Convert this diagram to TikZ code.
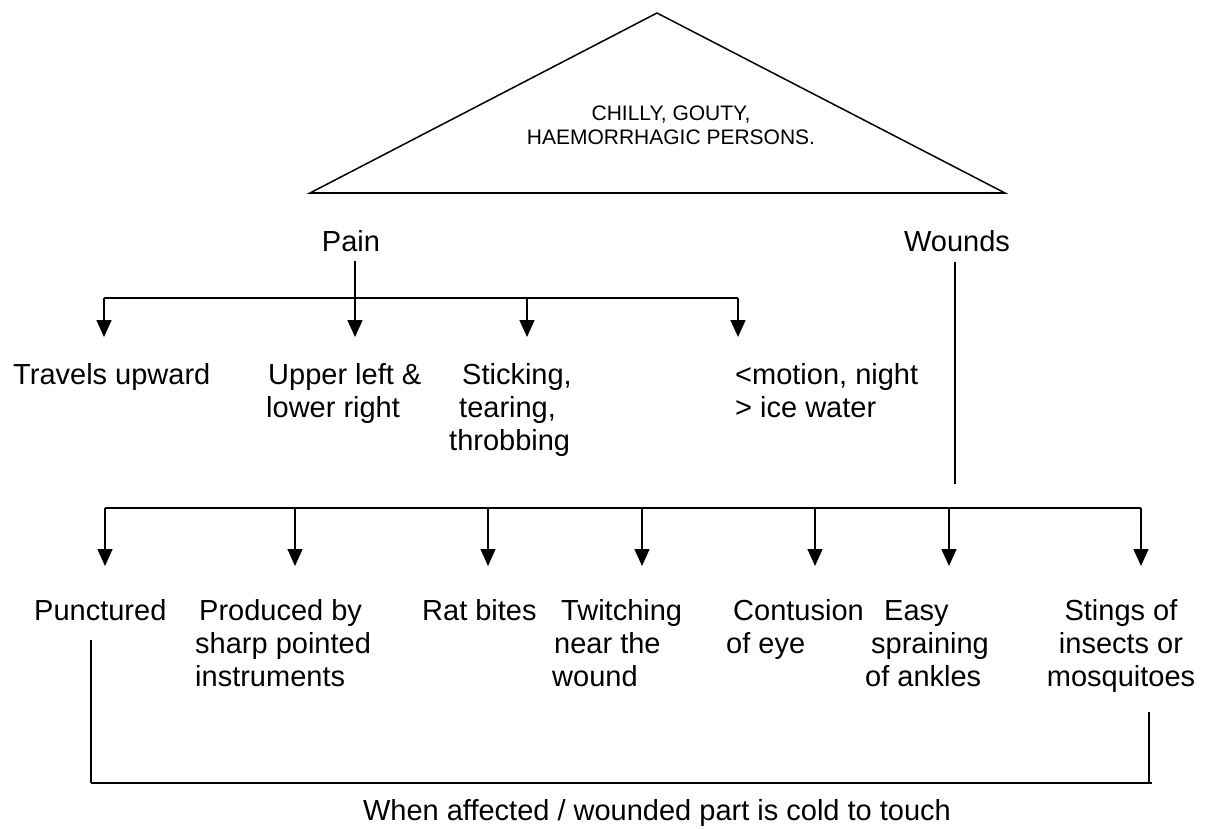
\documentclass[tikz,border=0pt]{standalone}
\usepackage{fontspec}
\setmainfont{Liberation Sans}
\usetikzlibrary{arrows.meta}
\begin{document}
\begin{tikzpicture}[x=1pt,y=-1pt,
  lbl/.style={inner sep=0pt, anchor=base west, font=\fontsize{29}{33}\selectfont},
  clbl/.style={inner sep=0pt, anchor=base, font=\fontsize{29}{33}\selectfont},
  ln/.style={line width=1.5pt},
  arr/.style={ln, -{Triangle[length=17pt,width=15pt]}},
]
\useasboundingbox (0,0) rectangle (1208,828);

% triangle
\draw[ln, line join=miter] (657,13) -- (1005,193) -- (310,193) -- cycle;
\draw[line width=2.2pt] (310,193) -- (1005,193);
\node[inner sep=0pt, anchor=base, font=\fontsize{21}{24}\selectfont] (persons) at (671,120)
  {\begin{tabular}[t]{@{}c@{}}CHILLY, GOUTY,\\HAEMORRHAGIC PERSONS.\end{tabular}};

% heads
\node[clbl] (pain) at (351,251) {Pain};
\node[clbl] (wounds) at (957,251) {Wounds};

% pain children
\node[lbl] (p1) at (13,384) {Travels upward};
\node[lbl] (p2) at (266,384) {\begin{tabular}[t]{@{}l@{}}\hspace*{2pt}Upper left \&\\lower right\end{tabular}};
\node[lbl] (p3) at (449,384) {\begin{tabular}[t]{@{}l@{}}\hspace*{13pt}Sticking,\\\hspace*{10pt}tearing,\\throbbing\end{tabular}};
\node[lbl] (p4) at (735,384) {\begin{tabular}[t]{@{}l@{}}<motion, night\\> ice water\end{tabular}};

% wound children
\node[lbl] (w1) at (34,620) {Punctured};
\node[lbl] (w2) at (195,620) {\begin{tabular}[t]{@{}l@{}}\hspace*{4pt}Produced by\\sharp pointed\\instruments\end{tabular}};
\node[lbl] (w3) at (422,620) {Rat bites};
\node[lbl] (w4) at (552,620) {\begin{tabular}[t]{@{}l@{}}\hspace*{9pt}Twitching\\\hspace*{2pt}near the\\wound\end{tabular}};
\node[lbl] (w5) at (726,620) {\begin{tabular}[t]{@{}l@{}}\hspace*{7pt}Contusion\\of eye\end{tabular}};
\node[lbl] (w6) at (865,620) {\begin{tabular}[t]{@{}l@{}}\hspace*{19pt}Easy\\\hspace*{6pt}spraining\\of ankles\end{tabular}};
\node[clbl] (w7) at (1121,620) {\begin{tabular}[t]{@{}c@{}}Stings of\\insects or\\mosquitoes\end{tabular}};

\node[clbl] (cold) at (657,820) {When affected / wounded part is cold to touch};

% pain connectors
\coordinate (painTop) at (355,261);
\coordinate (pbL) at (104,298);
\coordinate (pbR) at (738,298);
\coordinate (pb3) at (527,298);
\coordinate (pa1) at (104,337);
\coordinate (pa2) at (355,337);
\coordinate (pa3) at (527,337);
\coordinate (pa4) at (738,337);
\draw[arr] (painTop) -- (pa2);
\draw[ln] (pbL) -- (pbR);
\draw[arr] (pbL) -- (pa1);
\draw[arr] (pb3) -- (pa3);
\draw[arr] (pbR) -- (pa4);

% wounds connectors
\coordinate (woundTop) at (955,262);
\coordinate (woundBot) at (955,484);
\draw[ln] (woundTop) -- (woundBot);
\coordinate (wbL) at (105,508);
\coordinate (wbR) at (1141,508);
\draw[ln] (wbL) -- (wbR);
\foreach \x/\n in {105/1,295/2,488/3,642/4,815/5,949/6,1141/7}{
  \coordinate (wb\n) at (\x,508);
  \coordinate (wa\n) at (\x,566);
  \draw[arr] (wb\n) -- (wa\n);
}

% bottom bracket
\coordinate (brL) at (91,640);
\coordinate (brLB) at (91,783);
\coordinate (brRB) at (1152,783);
\coordinate (brR) at (1149,712);
\coordinate (brRB2) at (1149,783);
\draw[ln] (brL) -- (brLB);
\draw[line width=2.2pt] (brLB) -- (brRB);
\draw[ln] (brR) -- (brRB2);
\end{tikzpicture}
\end{document}
